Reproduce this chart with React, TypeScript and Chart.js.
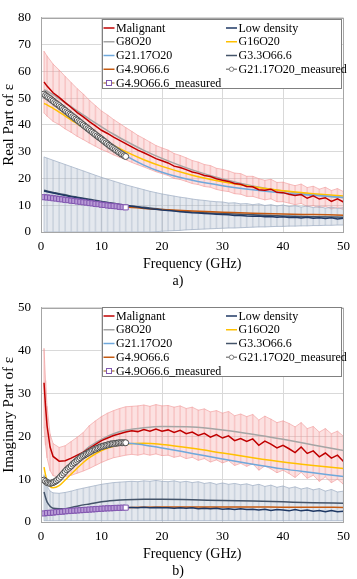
import React, { useEffect, useRef } from 'react';
import { Chart, registerables } from 'chart.js';

Chart.register(...registerables);
Chart.defaults.font.family = '"Liberation Serif", "Times New Roman", serif';
Chart.defaults.color = '#000';

// ---------------- DATA : real part (a) ----------------
const FREQ_RE = [0.5, 1, 2, 3, 4, 5, 6, 7, 8, 9, 10, 11, 12, 13, 14, 15, 16, 17, 18, 19, 20, 21, 22, 23, 24, 25, 26, 27, 28, 29, 30, 31, 32, 33, 34, 35, 36, 37, 38, 39, 40, 41, 42, 43, 44, 45, 46, 47, 48, 49, 50];
const MALIGNANT_RE = [56.0, 54.5, 52.0, 50.3, 48.3, 46.5, 44.6, 43.0, 41.2, 39.6, 38.0, 36.8, 35.4, 34.2, 33.0, 31.8, 30.6, 29.6, 28.5, 27.4, 26.6, 25.8, 24.6, 24.1, 23.3, 22.4, 21.9, 21.1, 20.7, 19.9, 19.3, 18.9, 18.1, 17.8, 17.0, 16.9, 15.8, 15.6, 16.0, 14.8, 14.7, 14.1, 13.6, 14.0, 12.6, 13.5, 12.3, 12.8, 11.4, 12.4, 11.2];
const MALIGNANT_RE_HI = [67.5, 65.7, 62.7, 60.5, 58.1, 55.8, 53.5, 51.5, 49.2, 47.2, 45.2, 43.7, 42.0, 40.5, 39.0, 37.6, 36.1, 34.9, 33.6, 32.3, 31.4, 30.6, 29.3, 28.6, 27.7, 26.7, 26.1, 25.2, 24.8, 23.8, 23.4, 22.8, 22.0, 21.8, 20.8, 20.8, 19.9, 19.3, 19.7, 18.5, 18.6, 17.9, 17.3, 17.9, 16.6, 17.1, 16.0, 16.7, 15.5, 16.2, 15.1];
const MALIGNANT_RE_LO = [44.5, 43.3, 41.3, 40.1, 38.5, 37.2, 35.7, 34.5, 33.2, 32.0, 30.8, 29.9, 28.8, 27.9, 27.0, 26.0, 25.1, 24.3, 23.4, 22.5, 21.8, 21.1, 20.0, 19.6, 18.9, 18.1, 17.7, 17.0, 16.7, 15.9, 15.4, 15.1, 14.3, 14.1, 13.3, 13.3, 12.6, 12.0, 12.4, 11.3, 11.3, 10.8, 10.2, 10.7, 9.5, 9.8, 9.1, 9.6, 8.6, 9.2, 8.4];
const LOWDEN_RE = [15.3, 15.0, 14.6, 14.1, 13.6, 13.2, 12.8, 12.4, 12.0, 11.6, 11.2, 10.9, 10.5, 10.2, 9.9, 9.6, 9.3, 9.0, 8.7, 8.5, 8.2, 8.0, 7.8, 7.6, 7.4, 7.2, 7.1, 6.9, 6.8, 6.6, 6.5, 6.4, 6.2, 6.2, 6.0, 5.9, 6.0, 5.7, 5.8, 5.5, 5.7, 5.4, 5.5, 5.2, 5.5, 5.1, 5.3, 5.0, 5.3, 4.9, 5.1];
const LOWDEN_RE_HI = [28.0, 27.6, 26.8, 26.0, 25.2, 24.4, 23.6, 22.8, 22.0, 21.2, 20.4, 19.7, 19.0, 18.3, 17.6, 17.0, 16.4, 15.8, 15.2, 14.7, 14.2, 13.8, 13.4, 13.0, 12.7, 12.3, 12.0, 11.8, 11.5, 11.3, 11.2, 10.8, 10.9, 10.5, 10.6, 10.2, 10.5, 9.9, 10.2, 9.7, 10.1, 9.5, 9.8, 9.3, 9.7, 9.1, 9.5, 8.9, 9.3, 8.8, 9.1];
const LOWDEN_RE_LO = [0, 0, 0, 0, 0, 0, 0, 0, 0, 0, 0, 0, 0, 0, 0, 0, 0, 0, 0, 0.1, 0.3, 0.4, 0.5, 0.6, 0.8, 0.9, 1.0, 1.1, 1.2, 1.3, 1.4, 1.5, 1.5, 1.6, 1.7, 1.8, 1.9, 1.9, 2.0, 2.1, 2.1, 2.2, 2.2, 2.3, 2.3, 2.4, 2.4, 2.5, 2.5, 2.6, 2.6];

const FREQ_MODEL_RE = [0.5, 1, 2, 3, 4, 5, 6, 8, 10, 12, 14, 17, 20, 25, 30, 35, 40, 45, 50];
const G8O20_RE = [53.2, 52.6, 51.3, 49.8, 48.3, 46.8, 45.2, 42.2, 39.3, 36.5, 34.0, 30.5, 27.5, 23.2, 19.8, 17.2, 15.3, 13.9, 12.8];
const G16O20_RE = [48.0, 47.5, 46.2, 44.8, 43.3, 41.8, 40.4, 37.5, 34.8, 32.3, 30.0, 27.0, 24.5, 21.2, 18.8, 16.9, 15.4, 14.3, 13.4];
const G2117O20_RE = [51.3, 50.6, 49.0, 47.3, 45.5, 43.8, 42.0, 38.5, 35.0, 31.6, 28.5, 25.0, 22.3, 19.3, 17.3, 15.8, 14.6, 13.7, 12.9];
const G33O666_RE = [15.6, 15.3, 14.8, 14.3, 13.9, 13.4, 13.0, 12.2, 11.4, 10.7, 10.0, 9.2, 8.4, 7.5, 6.9, 6.4, 6.0, 5.7, 5.5];
const G49O666_RE = [13.0, 12.9, 12.6, 12.3, 12.0, 11.7, 11.5, 10.9, 10.4, 9.8, 9.3, 8.8, 8.4, 7.8, 7.4, 7.0, 6.7, 6.5, 6.3];

const FREQ_MEAS_FINE = [0.5, 0.75, 1, 1.25, 1.5, 1.75, 2, 2.25, 2.5, 2.75, 3, 3.25, 3.5, 3.75, 4, 4.25, 4.5, 4.75, 5, 5.25, 5.5, 5.75, 6, 6.25, 6.5, 6.75, 7, 7.25, 7.5, 7.75, 8, 8.25, 8.5, 8.75, 9, 9.25, 9.5, 9.75, 10, 10.25, 10.5, 10.75, 11, 11.25, 11.5, 11.75, 12, 12.25, 12.5, 12.75, 13, 13.25, 13.5, 13.75, 14];
const FREQ_MEAS = [0.5, 1, 1.5, 2, 2.5, 3, 3.5, 4, 4.5, 5, 5.5, 6, 6.5, 7, 7.5, 8, 8.5, 9, 9.5, 10, 10.5, 11, 11.5, 12, 12.5, 13, 13.5, 14];
const G2117O20_MEAS_RE = [51.5, 51.0, 50.6, 50.2, 49.8, 49.3, 48.9, 48.4, 48.0, 47.6, 47.2, 46.7, 46.3, 45.8, 45.4, 44.9, 44.5, 44.0, 43.6, 43.1, 42.7, 42.2, 41.8, 41.3, 40.9, 40.4, 40.0, 39.5, 39.1, 38.6, 38.2, 37.7, 37.3, 36.8, 36.4, 35.9, 35.5, 35.1, 34.7, 34.2, 33.8, 33.3, 32.9, 32.4, 32.0, 31.6, 31.2, 30.8, 30.4, 30.0, 29.6, 29.2, 28.9, 28.5, 28.2];
const G49O666_MEAS_RE = [13.0, 12.9, 12.8, 12.6, 12.5, 12.3, 12.2, 12.0, 11.9, 11.7, 11.6, 11.4, 11.3, 11.1, 11.0, 10.8, 10.7, 10.5, 10.4, 10.2, 10.1, 9.9, 9.8, 9.7, 9.6, 9.4, 9.3, 9.2];

// ---------------- DATA : imaginary part (b) ----------------
const FREQ_IM = [0.5, 0.75, 1, 1.5, 2, 3, 4, 5, 6, 7, 8, 9, 10, 11, 12, 13, 14, 15, 16, 17, 18, 19, 20, 21, 22, 23, 24, 25, 26, 27, 28, 29, 30, 31, 32, 33, 34, 35, 36, 37, 38, 39, 40, 41, 42, 43, 44, 45, 46, 47, 48, 49, 50];
const MALIGNANT_IM = [32.5, 27.0, 22.5, 17.5, 15.3, 14.2, 14.3, 14.9, 15.6, 16.3, 17.2, 18.1, 19.0, 19.6, 20.2, 20.6, 21.0, 21.3, 21.1, 21.6, 21.2, 21.7, 21.2, 21.5, 20.9, 21.4, 20.6, 21.0, 20.2, 20.7, 19.8, 20.4, 19.6, 20.1, 19.0, 19.5, 18.8, 19.4, 17.9, 18.9, 18.2, 17.3, 17.9, 17.1, 16.2, 17.5, 16.0, 16.6, 15.2, 16.1, 14.9, 15.6, 14.1];
const MALIGNANT_IM_HI = [40.5, 33.0, 27.0, 20.5, 18.3, 17.4, 17.8, 18.8, 19.8, 20.9, 22.5, 23.6, 24.6, 25.4, 26.0, 26.5, 26.9, 27.0, 27.1, 27.3, 27.0, 27.4, 27.1, 27.2, 26.8, 27.1, 26.5, 26.8, 26.1, 26.4, 25.7, 26.0, 25.4, 25.8, 24.8, 25.2, 24.6, 25.1, 23.8, 24.7, 24.0, 23.2, 23.6, 23.0, 22.2, 23.2, 21.8, 22.3, 21.0, 21.8, 20.6, 21.2, 20.0];
const MALIGNANT_IM_LO = [22.0, 18.0, 15.0, 12.0, 10.8, 10.5, 10.6, 10.9, 11.4, 11.9, 12.5, 13.2, 13.9, 14.5, 15.0, 15.3, 15.6, 15.8, 15.6, 15.9, 15.6, 15.9, 15.5, 15.6, 15.1, 15.4, 14.8, 15.1, 14.4, 14.8, 14.0, 14.5, 13.8, 14.3, 13.2, 13.7, 13.0, 13.6, 12.1, 13.1, 12.4, 11.5, 12.1, 11.3, 10.4, 11.6, 10.2, 10.9, 9.5, 10.5, 9.2, 10.0, 8.8];
const LOWDEN_IM = [2.0, 2.0, 2.05, 2.1, 2.15, 2.3, 2.45, 2.6, 2.75, 2.9, 3.0, 3.1, 3.2, 3.3, 3.3, 3.4, 3.4, 3.4, 3.3, 3.45, 3.3, 3.4, 3.3, 3.35, 3.2, 3.3, 3.2, 3.3, 3.1, 3.2, 3.1, 3.2, 3.0, 3.1, 2.9, 3.1, 2.9, 3.0, 2.8, 3.0, 2.7, 2.9, 2.8, 2.6, 2.9, 2.6, 2.8, 2.5, 2.7, 2.4, 2.7, 2.4, 2.5];
const LOWDEN_IM_HI = [11.0, 9.5, 8.3, 7.2, 6.8, 6.7, 6.9, 7.2, 7.6, 7.9, 8.2, 8.5, 8.8, 9.0, 9.2, 9.3, 9.4, 9.5, 9.4, 9.6, 9.5, 9.7, 9.5, 9.4, 9.6, 9.3, 9.5, 9.2, 9.4, 9.0, 9.2, 8.8, 9.1, 8.8, 9.0, 8.7, 8.9, 8.5, 8.8, 8.3, 8.6, 8.1, 8.4, 7.9, 8.2, 7.7, 8.0, 7.5, 7.8, 7.2, 7.6, 7.0, 7.2];
const LOWDEN_IM_LO = [0.3, 0.3, 0.3, 0.3, 0.3, 0.3, 0.3, 0.3, 0.3, 0.3, 0.3, 0.3, 0.3, 0.3, 0.3, 0.3, 0.3, 0.3, 0.3, 0.3, 0.3, 0.3, 0.3, 0.3, 0.3, 0.3, 0.3, 0.3, 0.3, 0.3, 0.3, 0.3, 0.3, 0.3, 0.3, 0.3, 0.3, 0.3, 0.3, 0.3, 0.3, 0.3, 0.3, 0.3, 0.3, 0.3, 0.3, 0.3, 0.3, 0.3, 0.3, 0.3, 0.3];

const FREQ_MODEL_IM = [0.5, 0.75, 1, 1.5, 2, 3, 4, 5, 6, 7, 8, 10, 12, 14, 17, 20, 25, 30, 35, 40, 45, 50];
const G8O20_IM = [10.0, 9.7, 9.4, 9.3, 9.6, 10.6, 12.0, 13.5, 15.0, 16.4, 17.6, 19.3, 20.6, 21.4, 22.0, 22.3, 22.2, 21.5, 20.5, 19.3, 18.0, 16.7];
const G16O20_IM = [12.8, 11.0, 9.6, 8.3, 8.0, 8.5, 9.8, 11.2, 12.6, 13.9, 15.0, 16.7, 17.7, 18.2, 18.4, 18.1, 17.2, 16.1, 15.0, 14.0, 13.2, 12.5];
const G2117O20_IM = [10.0, 9.6, 9.3, 9.0, 9.2, 10.1, 11.5, 12.9, 14.2, 15.3, 16.2, 17.5, 18.2, 18.4, 18.0, 17.3, 16.0, 14.7, 13.5, 12.4, 11.5, 10.6];
const G33O666_IM = [7.0, 5.7, 4.7, 3.7, 3.2, 3.1, 3.1, 3.4, 3.7, 4.0, 4.2, 4.7, 5.0, 5.2, 5.3, 5.3, 5.2, 5.0, 4.9, 4.7, 4.5, 4.4];
const G49O666_IM = [2.0, 2.02, 2.05, 2.1, 2.15, 2.3, 2.4, 2.5, 2.6, 2.7, 2.8, 3.0, 3.15, 3.35, 3.45, 3.5, 3.5, 3.5, 3.5, 3.45, 3.45, 3.4];

const G2117O20_MEAS_IM = [9.8, 9.5, 9.2, 9.1, 9.0, 9.1, 9.2, 9.4, 9.6, 9.9, 10.2, 10.6, 11.0, 11.4, 11.8, 12.2, 12.5, 12.8, 13.1, 13.5, 13.8, 14.1, 14.4, 14.7, 15.0, 15.3, 15.5, 15.7, 15.9, 16.1, 16.3, 16.5, 16.7, 16.9, 17.0, 17.2, 17.3, 17.5, 17.6, 17.7, 17.8, 17.9, 18.0, 18.1, 18.2, 18.25, 18.3, 18.35, 18.4, 18.45, 18.5, 18.5, 18.5, 18.5, 18.5];
const G49O666_MEAS_IM = [2.0, 2.1, 2.15, 2.2, 2.3, 2.35, 2.4, 2.5, 2.55, 2.6, 2.65, 2.7, 2.75, 2.8, 2.85, 2.9, 2.95, 3.0, 3.05, 3.1, 3.15, 3.2, 3.2, 3.25, 3.3, 3.3, 3.35, 3.35];

const X_TICK_STEP = 10;
const Y_TICK_STEP = 10;

// ---------------- styles ----------------
const C = {
  malignant: '#C00000',
  lowDensity: '#1F3864',
  g8: '#A5A5A5',
  g16: '#FFC000',
  g2117: '#6FA8DC',
  g33: '#44546A',
  g49: '#C55A11',
  measCircle: '#4D4D4D',
  measSquare: '#8257B0',
  measSquareFill: '#B89AD6',
  measSquareLine: '#B8935A',
  pinkFill: 'rgba(245, 165, 165, 0.33)',
  pinkEdge: 'rgba(240, 150, 150, 0.6)',
  pinkStripe: 'rgba(236, 140, 140, 0.35)',
  grayFill: 'rgba(172, 185, 202, 0.32)',
  grayEdge: 'rgba(160, 175, 196, 0.75)',
  grayStripe: 'rgba(150, 165, 186, 0.35)',
  grid: '#D9D9D9',
  frame: '#A6A6A6',
};

const LEGEND_ITEMS = [
  { label: 'Malignant', color: C.malignant, col: 0, row: 0 },
  { label: 'Low density', color: C.lowDensity, col: 1, row: 0 },
  { label: 'G8O20', color: C.g8, col: 0, row: 1 },
  { label: 'G16O20', color: C.g16, col: 1, row: 1 },
  { label: 'G21.17O20', color: C.g2117, col: 0, row: 2 },
  { label: 'G3.3O66.6', color: C.g33, col: 1, row: 2 },
  { label: 'G4.9O66.6', color: C.g49, col: 0, row: 3 },
  { label: 'G21.17O20_measured', color: '#8C8C8C', col: 1, row: 3, marker: 'circle' },
  { label: 'G4.9O66.6_measured', color: C.measSquareLine, col: 0, row: 4, marker: 'rect' },
];

const pts = (xs: number[], ys: number[]) => xs.map((x, i) => ({ x, y: ys[i] }));
const bars = (xs: number[], lo: number[], hi: number[]) => xs.map((x, i) => ({ x, y: [lo[i], hi[i]] }));

function lineDs(label: string, xs: number[], ys: number[], color: string, order: number, smooth: boolean, width = 1.5): any {
  return {
    type: 'line', label, data: pts(xs, ys), borderColor: color, backgroundColor: color,
    borderWidth: width, pointRadius: 0, pointHoverRadius: 0, fill: false, order,
    tension: smooth ? 0.4 : 0, cubicInterpolationMode: smooth ? 'monotone' : 'default',
  };
}

function bandDs(xs: number[], lo: number[], hi: number[], fill: string, edge: string, stripe: string, order: number): any[] {
  return [
    { type: 'bar', label: '_stripe', data: bars(xs, lo, hi), backgroundColor: stripe, borderWidth: 0, barThickness: 1, grouped: false, order: order + 2 },
    { type: 'line', label: '_hi', data: pts(xs, hi), borderColor: edge, borderWidth: 1, pointRadius: 0, fill: false, order: order + 1, tension: 0 },
    { type: 'line', label: '_lo', data: pts(xs, lo), borderColor: edge, backgroundColor: fill, borderWidth: 1, pointRadius: 0, fill: '-1', order, tension: 0 },
  ];
}

function measDs(label: string, xs: number[], ys: number[], style: 'circle' | 'rect', order: number): any {
  const n = ys.length;
  const isCircle = style === 'circle';
  const border = isCircle ? C.measCircle : C.measSquare;
  const fillC = isCircle ? '#FFFFFF' : C.measSquareFill;
  return {
    type: 'line', label, data: pts(xs, ys), borderColor: border, borderWidth: 1, fill: false, order,
    pointStyle: style, pointRadius: isCircle ? 3 : 3.6, pointBorderWidth: 1, pointBorderColor: border,
    pointBackgroundColor: (c: any) => (c.dataIndex === n - 1 ? '#FFFFFF' : fillC), tension: 0,
  };
}

const framePlugin = {
  id: 'frame',
  afterDatasetsDraw(chart: any) {
    const { ctx, chartArea: a } = chart;
    ctx.save();
    ctx.strokeStyle = C.frame;
    ctx.lineWidth = 1;
    ctx.strokeRect(Math.round(a.left) + 0.5, Math.round(a.top) + 0.5, Math.round(a.right - a.left) - 1, Math.round(a.bottom - a.top));
    ctx.restore();
  },
};

const legendPlugin = {
  id: 'boxLegend',
  afterDraw(chart: any, _args: any, opts: any) {
    const { ctx, chartArea: a } = chart;
    const x0 = Math.round(a.left + 61);
    const x1 = Math.round(a.right - 2);
    const y0 = Math.round(a.top + 1 + opts.dy);
    const h = 70;
    ctx.save();
    ctx.fillStyle = '#FFFFFF';
    ctx.fillRect(x0, y0, x1 - x0, h);
    ctx.strokeStyle = '#808080';
    ctx.lineWidth = 1;
    ctx.strokeRect(x0 + 0.5, y0 + 0.5, x1 - x0 - 1, h - 1);
    ctx.font = '12px "Liberation Serif", "Times New Roman", serif';
    ctx.textBaseline = 'middle';
    ctx.textAlign = 'left';
    for (const it of LEGEND_ITEMS) {
      const sx = x0 + (it.col === 0 ? 1.5 : 124);
      const sy = y0 + 9 + it.row * 13.75;
      ctx.strokeStyle = it.color;
      ctx.lineWidth = 1.5;
      ctx.beginPath();
      ctx.moveTo(sx, sy);
      ctx.lineTo(sx + 11, sy);
      ctx.stroke();
      if (it.marker === 'circle') {
        ctx.beginPath();
        ctx.arc(sx + 5.5, sy, 2.2, 0, Math.PI * 2);
        ctx.fillStyle = '#FFFFFF';
        ctx.fill();
        ctx.lineWidth = 1;
        ctx.strokeStyle = '#7F7F7F';
        ctx.stroke();
      } else if (it.marker === 'rect') {
        ctx.fillStyle = '#FFFFFF';
        ctx.fillRect(sx + 3, sy - 2.5, 5, 5);
        ctx.lineWidth = 1;
        ctx.strokeStyle = C.measSquare;
        ctx.strokeRect(sx + 3, sy - 2.5, 5, 5);
      }
      ctx.fillStyle = '#000000';
      ctx.fillText(it.label, sx + 12.5, sy + 0.5);
    }
    ctx.fillStyle = '#000000';
    ctx.font = '14px "Liberation Serif", "Times New Roman", serif';
    ctx.textAlign = 'center';
    ctx.fillText(opts.caption, opts.capX, opts.capY);
    ctx.restore();
  },
};

interface Spec {
  height: number; bottomPad: number; yMax: number; yTitle: string; caption: string; capY: number; dy: number;
  fN: number[]; mal: number[]; malLo: number[]; malHi: number[]; low: number[]; lowLo: number[]; lowHi: number[];
  fM: number[]; g8: number[]; g16: number[]; g2117: number[]; g33: number[]; g49: number[];
  m2117: number[]; m49: number[];
}

const SPEC_RE: Spec = {
  height: 290, bottomPad: 14, yMax: 80, yTitle: 'Real Part of ε', caption: 'a)', capY: 281, dy: 0,
  fN: FREQ_RE, mal: MALIGNANT_RE, malLo: MALIGNANT_RE_LO, malHi: MALIGNANT_RE_HI,
  low: LOWDEN_RE, lowLo: LOWDEN_RE_LO, lowHi: LOWDEN_RE_HI,
  fM: FREQ_MODEL_RE, g8: G8O20_RE, g16: G16O20_RE, g2117: G2117O20_RE, g33: G33O666_RE, g49: G49O666_RE,
  m2117: G2117O20_MEAS_RE, m49: G49O666_MEAS_RE,
};

const SPEC_IM: Spec = {
  height: 289, bottomPad: 13, yMax: 50, yTitle: 'Imaginary Part of ε', caption: 'b)', capY: 281.5, dy: -2,
  fN: FREQ_IM, mal: MALIGNANT_IM, malLo: MALIGNANT_IM_LO, malHi: MALIGNANT_IM_HI,
  low: LOWDEN_IM, lowLo: LOWDEN_IM_LO, lowHi: LOWDEN_IM_HI,
  fM: FREQ_MODEL_IM, g8: G8O20_IM, g16: G16O20_IM, g2117: G2117O20_IM, g33: G33O666_IM, g49: G49O666_IM,
  m2117: G2117O20_MEAS_IM, m49: G49O666_MEAS_IM,
};

function buildConfig(s: Spec): any {
  const datasets = [
    ...bandDs(s.fN, s.malLo, s.malHi, C.pinkFill, C.pinkEdge, C.pinkStripe, 90),
    ...bandDs(s.fN, s.lowLo, s.lowHi, C.grayFill, C.grayEdge, C.grayStripe, 80),
    lineDs('G8O20', s.fM, s.g8, C.g8, 9, true),
    lineDs('G16O20', s.fM, s.g16, C.g16, 8, true),
    lineDs('G21.17O20', s.fM, s.g2117, C.g2117, 7, true),
    lineDs('G3.3O66.6', s.fM, s.g33, C.g33, 6, true),
    lineDs('G4.9O66.6', s.fM, s.g49, C.g49, 5, true),
    lineDs('Low density', s.fN, s.low, C.lowDensity, 4, false),
    lineDs('Malignant', s.fN, s.mal, C.malignant, 3, false),
    measDs('G21.17O20_measured', FREQ_MEAS_FINE, s.m2117, 'circle', 2),
    measDs('G4.9O66.6_measured', FREQ_MEAS, s.m49, 'rect', 1),
  ];
  return {
    type: 'line',
    data: { datasets },
    plugins: [framePlugin, legendPlugin],
    options: {
      responsive: false,
      animation: false,
      devicePixelRatio: 1,
      events: [],
      layout: { padding: { left: 0, top: 6, right: 8, bottom: s.bottomPad }, autoPadding: false },
      plugins: {
        legend: { display: false },
        tooltip: { enabled: false },
        boxLegend: { dy: s.dy, caption: s.caption, capX: 178, capY: s.capY },
      },
      scales: {
        x: {
          type: 'linear', min: 0, max: 50, offset: false,
          ticks: { stepSize: X_TICK_STEP, color: '#000', font: { size: 13 }, padding: 7, maxRotation: 0, autoSkip: false },
          grid: { color: C.grid, drawTicks: false, offset: false },
          border: { display: true, color: C.frame },
          title: { display: true, text: 'Frequency (GHz)', color: '#000', font: { size: 14 }, padding: { top: 0, bottom: 3 } },
          afterFit: (sc: any) => { sc.height = 44; },
        },
        y: {
          type: 'linear', min: 0, max: s.yMax,
          ticks: { stepSize: Y_TICK_STEP, color: '#000', font: { size: 13 }, padding: 10 },
          grid: { color: C.grid, drawTicks: false },
          border: { display: true, color: C.frame },
          title: { display: true, text: s.yTitle, color: '#000', font: { size: 15 }, padding: { top: 0, bottom: 0 } },
          afterFit: (sc: any) => { sc.width = 41; },
        },
      },
    },
  };
}

function ChartCanvas({ spec }: { spec: Spec }) {
  const ref = useRef<HTMLCanvasElement>(null);
  useEffect(() => {
    const chart = new Chart(ref.current as HTMLCanvasElement, buildConfig(spec));
    return () => chart.destroy();
  }, [spec]);
  return <canvas ref={ref} width={357} height={spec.height} style={{ display: 'block', width: 357, height: spec.height }} />;
}

export default function App() {
  return (
    <div style={{ position: 'absolute', left: 0, top: 0, width: 357, height: 579, background: '#FFFFFF' }}>
      <ChartCanvas spec={SPEC_RE} />
      <ChartCanvas spec={SPEC_IM} />
    </div>
  );
}
